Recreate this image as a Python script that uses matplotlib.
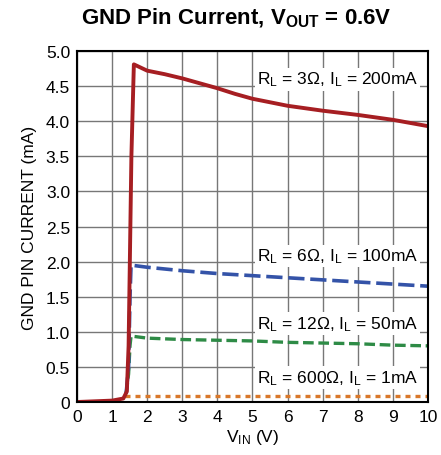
import matplotlib
matplotlib.use('Agg')
import matplotlib.pyplot as plt
import numpy as np

plt.rcParams['font.family'] = ['Liberation Sans Narrow', 'Liberation Sans', 'DejaVu Sans']
plt.rcParams['mathtext.fontset'] = 'custom'
plt.rcParams['mathtext.rm'] = 'Liberation Sans'
plt.rcParams['mathtext.it'] = 'Liberation Sans'
plt.rcParams['mathtext.bf'] = 'Liberation Sans:bold'

# data
vin_3 = [0, 0.5, 1.0, 1.32, 1.42, 1.47, 1.55, 1.62, 2.0, 2.5, 3.0, 3.5, 4.0, 4.5, 5.0, 6.0, 7.0, 8.0, 9.0, 10.0]
ignd_3 = [0.0, 0.01, 0.02, 0.05, 0.15, 0.8, 3.5, 4.81, 4.72, 4.67, 4.61, 4.54, 4.47, 4.39, 4.32, 4.22, 4.15, 4.09, 4.02, 3.93]

vin_6 = [1.40, 1.47, 1.51, 1.54, 2.0, 3.0, 4.0, 5.0, 6.0, 7.0, 8.0, 9.0, 10.0]
ignd_6 = [0.12, 0.5, 1.5, 1.95, 1.92, 1.87, 1.83, 1.80, 1.77, 1.74, 1.71, 1.68, 1.65]

vin_12 = [1.40, 1.47, 1.51, 1.54, 2.0, 3.0, 4.0, 5.0, 6.0, 7.0, 8.0, 9.0, 10.0]
ignd_12 = [0.12, 0.4, 0.8, 0.94, 0.91, 0.89, 0.88, 0.87, 0.85, 0.84, 0.83, 0.81, 0.80]

vin_600 = [1.37, 10.0]
ignd_600 = [0.085, 0.085]

labels = [r'R$_\mathregular{L}$ = 3Ω, I$_\mathregular{L}$ = 200mA',
          r'R$_\mathregular{L}$ = 6Ω, I$_\mathregular{L}$ = 100mA',
          r'R$_\mathregular{L}$ = 12Ω, I$_\mathregular{L}$ = 50mA',
          r'R$_\mathregular{L}$ = 600Ω, I$_\mathregular{L}$ = 1mA']
label_y = [4.6, 2.08, 1.12, 0.35]

fig = plt.figure(figsize=(4.41, 4.56), dpi=100)
ax = fig.add_axes([0.1746, 0.1162, 0.7959, 0.7697])

ax.plot(vin_600, ignd_600, color='#d9782a', lw=2.4, ls=(0, (1.5, 1.5)), zorder=3)
ax.plot(vin_12, ignd_12, color='#2e8b46', lw=2.4, ls=(0, (3.2, 1.4)), zorder=3)
ax.plot(vin_6, ignd_6, color='#3453a8', lw=2.6, ls=(0, (4.5, 1.6)), zorder=3)
ax.plot(vin_3, ignd_3, color='#a61e22', lw=2.8, zorder=4)

for lab, yy in zip(labels, label_y):
    ax.text(9.72, yy, lab, ha='right', va='center', fontsize=12.5,
            bbox=dict(facecolor='white', edgecolor='none', pad=1.5), zorder=5)

ax.set_xlim(0, 10)
ax.set_ylim(0, 5)
ax.set_xticks(np.arange(0, 11, 1))
ax.set_yticks(np.arange(0, 5.01, 0.5))
ax.set_yticklabels(['%.1f' % v if v > 0 else '0' for v in np.arange(0, 5.01, 0.5)])
ax.grid(True, color='#777777', lw=1)
ax.tick_params(length=0, labelsize=12.5, pad=5)
for s in ax.spines.values():
    s.set_linewidth(1.5)
    s.set_zorder(6)

ax.set_xlabel(r'V$_\mathregular{IN}$ (V)', fontsize=12.5, labelpad=2)
ax.set_ylabel('GND PIN CURRENT (mA)', fontsize=12.5, labelpad=6)
fig.suptitle(r'GND Pin Current, V$_\mathbf{OUT}$ = 0.6V', fontsize=16, fontweight='bold',
             x=0.535, y=0.985)

fig.savefig('out.png', dpi=100)
